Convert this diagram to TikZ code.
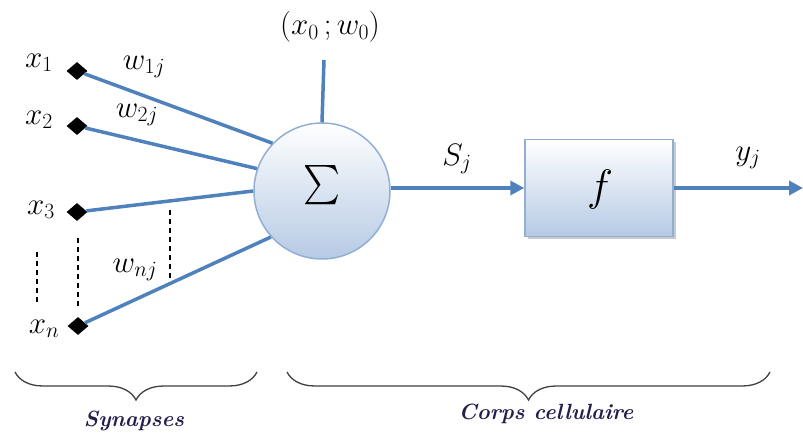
\documentclass[tikz,border=0pt]{standalone}
\usepackage{fix-cm}
\usepackage{graphicx}
\usetikzlibrary{arrows.meta,shapes.geometric,decorations.pathreplacing,shadows}
\definecolor{linkblue}{RGB}{79,129,189}
\definecolor{edgeblue}{RGB}{145,175,212}
\definecolor{fillblue}{RGB}{182,202,228}
\definecolor{navy}{RGB}{35,30,75}
\begin{document}
\begin{tikzpicture}[x=1pt,y=-1pt,
  every node/.style={font=\fontsize{31}{35}\selectfont, inner sep=0pt},
  pin/.style={diamond,fill=black,minimum width=21pt,minimum height=18pt,inner sep=0pt},
  link/.style={linkblue,line width=3.5pt},
  tip/.style={-{Triangle[length=14pt,width=14pt]}},
  dots/.style={black,line width=1.6pt,dash pattern=on 5pt off 4pt},
  brc/.style={decorate,decoration={brace,mirror,amplitude=28pt},draw=black!75,line width=1.3pt},
  caption/.style={font=\fontsize{22}{26}\selectfont\bfseries\itshape,text=navy}]
\useasboundingbox (0,0) rectangle (803,438);

% inputs
\node[pin] (x1) at (77,71) {};
\node[pin] (x2) at (77,126) {};
\node[pin] (x3) at (77,212) {};
\node[pin] (xn) at (78,326) {};
\node (lx1) at (39,63) {$x_1$};
\node (lx2) at (39,120) {$x_2$};
\node (lx3) at (41,210) {$x_3$};
\node (lxn) at (44,329) {$x_n$};

% summation
\node[circle,minimum size=136pt,draw=edgeblue,line width=1.5pt,
      top color=white,bottom color=fillblue] (sum) at (322,191) {};
\node (sigma) at (322,190) {\resizebox{37pt}{50pt}{$\sum$}};

\draw[link] (x1) -- (sum.136);
\draw[link] (x2) -- (sum.161);
\draw[link] (x3) -- (sum.180);
\draw[link] (xn) -- (sum.222);

\node (w1) at (144,67) {$w_{1j}$};
\node (w2) at (137,115) {$w_{2j}$};
\node (wn) at (135,270) {$w_{nj}$};

% bias
\node (bias) at (330,27) {$(x_0\,;w_0)$};
\coordinate (b0) at (324,60);
\draw[link] (b0) -- (sum.north);

% dashed markers
\coordinate (d1a) at (37,252); \coordinate (d1b) at (37,305);
\coordinate (d2a) at (78,238); \coordinate (d2b) at (78,307);
\coordinate (d3a) at (170,210); \coordinate (d3b) at (170,278);
\draw[dots] (d1a) -- (d1b);
\draw[dots] (d2a) -- (d2b);
\draw[dots] (d3a) -- (d3b);

% activation box
\node[draw=edgeblue,line width=1.5pt,minimum width=148pt,minimum height=97pt,
      top color=white,bottom color=fillblue,
      drop shadow={shadow xshift=3pt,shadow yshift=-3pt,fill=black!35,opacity=0.6}] (fbox) at (599,188) {};
\node (fl) at (600,190) {\fontsize{44}{48}\selectfont$f$};

\draw[link,tip] (sum.east |- fbox.west) -- (fbox.west);
\coordinate (out) at (803,188);
\draw[link,tip] (fbox.east) -- (out);

\node (sj) at (457,159) {$S_j$};
\node (yj) at (748,158) {$y_j$};

% braces
\coordinate (ba) at (15,372); \coordinate (bb) at (257,372);
\coordinate (bc) at (287,372); \coordinate (bd) at (770,372);
\draw[brc] (ba) -- (bb);
\draw[brc] (bc) -- (bd);

\node[caption] (syn) at (134,421) {Synapses};
\node[caption] (corps) at (546,414) {Corps cellulaire};
\end{tikzpicture}
\end{document}
